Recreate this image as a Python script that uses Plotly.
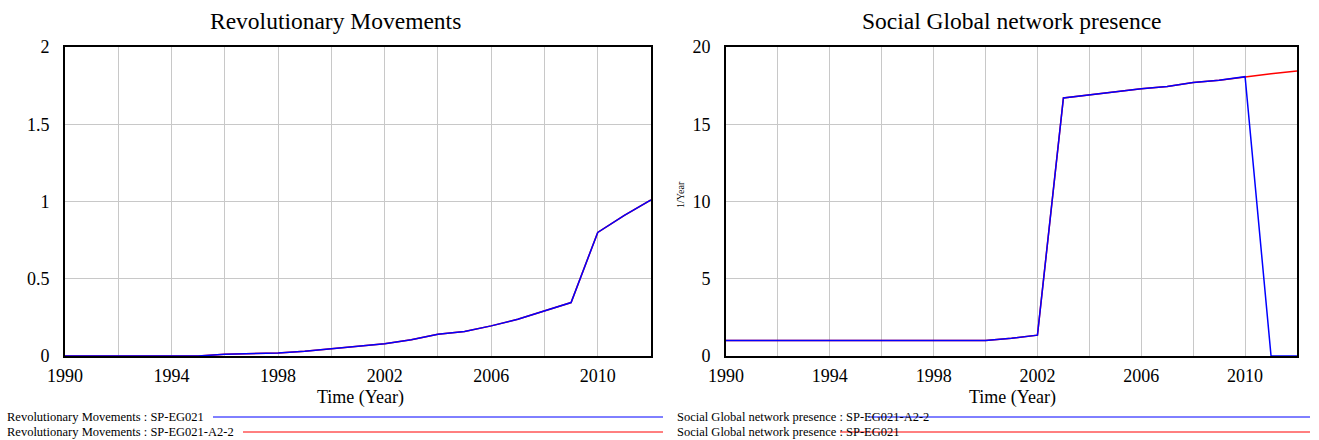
import plotly.graph_objects as go

years = list(range(1990, 2013))

# Revolutionary Movements (both runs identical)
rev_sp_eg021 = [0, 0, 0, 0, 0, 0, 0.011, 0.016, 0.02, 0.03, 0.047, 0.063, 0.08, 0.105,
                0.141, 0.158, 0.195, 0.238, 0.29, 0.346, 0.80, 0.91, 1.01]
rev_a2_2 = list(rev_sp_eg021)

# Social Global network presence
sgn_a2_2 = [1.0, 1.0, 1.0, 1.0, 1.0, 1.0, 1.0, 1.0, 1.0, 1.0, 1.0, 1.15, 1.35, 16.7,
            16.9, 17.1, 17.3, 17.45, 17.7, 17.85, 18.08, 0, 0]
sgn_sp_eg021 = [1.0, 1.0, 1.0, 1.0, 1.0, 1.0, 1.0, 1.0, 1.0, 1.0, 1.0, 1.15, 1.35, 16.7,
                16.9, 17.1, 17.3, 17.45, 17.7, 17.85, 18.08, 18.27, 18.45]

x_tickvals = list(range(1990, 2013, 2))
x_ticktext = [str(v) if (v - 1990) % 4 == 0 else "" for v in x_tickvals]

BLUE = "rgb(0,0,255)"
RED = "rgb(255,0,0)"
FONT = "Liberation Serif"
GRID = "rgb(200,200,200)"

fig = go.Figure()
fig.add_trace(go.Scatter(x=years, y=rev_a2_2, mode="lines", line=dict(color=RED, width=1.5),
                         xaxis="x", yaxis="y", showlegend=False))
fig.add_trace(go.Scatter(x=years, y=rev_sp_eg021, mode="lines", line=dict(color=BLUE, width=1.5),
                         xaxis="x", yaxis="y", showlegend=False))
fig.add_trace(go.Scatter(x=years, y=sgn_sp_eg021, mode="lines", line=dict(color=RED, width=1.5),
                         xaxis="x2", yaxis="y2", showlegend=False))
fig.add_trace(go.Scatter(x=years, y=sgn_a2_2, mode="lines", line=dict(color=BLUE, width=1.5),
                         xaxis="x2", yaxis="y2", showlegend=False))

W, H = 1319, 440
def px(x):
    return x / W
def py(y):
    return 1 - y / H

xcommon = dict(range=[1990, 2012], tickvals=x_tickvals, ticktext=x_ticktext,
               showgrid=True, gridcolor=GRID, gridwidth=1, showline=True, linecolor="black",
               linewidth=2, mirror=True, ticks="", zeroline=False, automargin=False,
               tickfont=dict(family=FONT, size=18, color="black"), ticklabelstandoff=2)
ycommon = dict(showgrid=True, gridcolor=GRID, gridwidth=1, showline=True, linecolor="black",
               linewidth=2, mirror=True, ticks="", zeroline=False, automargin=False,
               tickfont=dict(family=FONT, size=18, color="black"), ticklabelstandoff=10)

fig.update_layout(
    width=W, height=H, margin=dict(l=0, r=0, t=0, b=0, autoexpand=False),
    plot_bgcolor="white", paper_bgcolor="white",
    xaxis=dict(domain=[px(65), px(651)], anchor="y", **xcommon),
    yaxis=dict(domain=[py(356), py(47)], anchor="x", range=[0, 2],
               tickvals=[0, 0.5, 1, 1.5, 2], ticktext=["0", "0.5", "1", "1.5", "2"], **ycommon),
    xaxis2=dict(domain=[px(726), px(1297)], anchor="y2", **xcommon),
    yaxis2=dict(domain=[py(356), py(47)], anchor="x2", range=[0, 20],
                tickvals=[0, 5, 10, 15, 20], **ycommon),
)

ann = []
def add_text(text, x, y, size, xanchor="center", angle=0):
    ann.append(dict(text=text, x=px(x), y=py(y), xref="paper", yref="paper",
                    xanchor=xanchor, yanchor="middle", textangle=angle,
                    showarrow=False, font=dict(family=FONT, size=size, color="black")))

add_text("Revolutionary Movements", 335, 21, 23.5)
add_text("Social Global network presence", 1012, 21, 23.5)
add_text("Time (Year)", 360, 397, 18)
add_text("Time (Year)", 1012, 397, 18)
add_text("1/Year", 681, 195, 10, angle=-90)

legend_items = [
    ("Revolutionary Movements : SP-EG021", 5, 417, BLUE, 213, 660),
    ("Revolutionary Movements : SP-EG021-A2-2", 5, 432, RED, 243, 660),
    ("Social Global network presence : SP-EG021-A2-2", 675, 417, BLUE, 868, 1310),
    ("Social Global network presence : SP-EG021", 675, 432, RED, 840, 1310),
]
shapes = []
for text, tx, ty, col, lx0, lx1 in legend_items:
    add_text(text, tx, ty, 12.5, xanchor="left")
    shapes.append(dict(type="line", xref="paper", yref="paper", x0=px(lx0), x1=px(lx1),
                       y0=py(ty), y1=py(ty), line=dict(color=col, width=1)))
# small dashes at the start of right legend
for ty, col in [(417, BLUE), (432, RED)]:
    shapes.append(dict(type="line", xref="paper", yref="paper", x0=px(660), x1=px(663),
                       y0=py(ty), y1=py(ty), line=dict(color=col, width=1)))

fig.update_layout(annotations=ann, shapes=shapes)
fig.write_html("out.html")
